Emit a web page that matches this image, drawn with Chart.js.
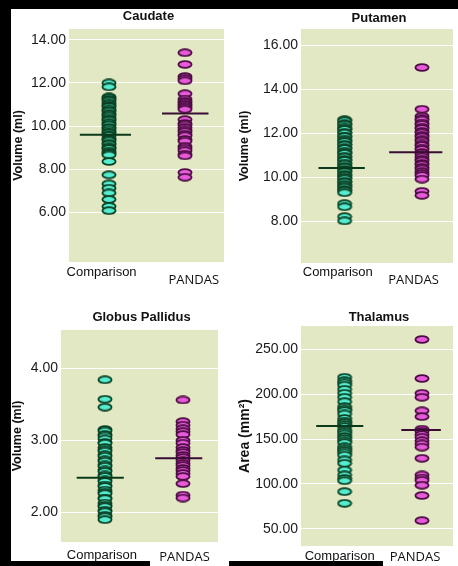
<!DOCTYPE html>
<html>
<head>
<meta charset="utf-8">
<script src="https://cdn.jsdelivr.net/npm/chart.js@4.4.1/dist/chart.umd.min.js"></script>
<style>
  html, body { margin: 0; padding: 0; background: #000; }
  #page { position: relative; width: 458px; height: 566px; overflow: hidden; background: #000; }
  .white { position: absolute; background: #fff; }
  canvas { position: absolute; }
</style>
</head>
<body>
<div id="page">
  <div class="white" style="left:11px;top:9px;width:447px;height:552px"></div>
  <div class="white" style="left:150px;top:560px;width:79px;height:6px"></div>
  <div class="white" style="left:383px;top:560px;width:75px;height:6px"></div>
  <canvas id="caudate" width="218" height="281" style="left:11px;top:9px"></canvas>
  <canvas id="putamen" width="229" height="281" style="left:229px;top:9px"></canvas>
  <canvas id="globus" width="218" height="276" style="left:11px;top:290px"></canvas>
  <canvas id="thalamus" width="229" height="276" style="left:229px;top:290px"></canvas>
</div>
<script>
const groups = ["Comparison", "PANDAS"];

// Caudate, volume (ml)
const caudateComparison = [12.0, 11.82, 11.35, 11.31, 11.24, 11.19, 11.08, 11.02, 10.95, 10.91, 10.8, 10.73,
  10.69, 10.58, 10.52, 10.46, 10.37, 10.3, 10.27, 10.16, 10.09, 10.05, 9.94, 9.9, 9.81, 9.72, 9.69, 9.6,
  9.55, 9.43, 9.38, 9.31, 9.2, 9.16, 9.04, 8.98, 8.95, 8.84, 8.77, 8.72, 8.66, 8.36, 7.74, 7.32, 7.12,
  6.9, 6.6, 6.28, 6.08];
const caudatePandas = [13.4, 12.86, 12.3, 12.2, 12.1, 11.5, 11.25, 11.15, 11.08, 11.0, 10.93, 10.85, 10.78,
  10.3, 10.12, 10.05, 9.93, 9.82, 9.74, 9.62, 9.55, 9.38, 9.3, 9.06, 8.97, 8.86, 8.7, 8.62, 7.85, 7.63];
const caudateMeans = [9.6, 10.58];
const caudateTicks = [6, 8, 10, 12, 14];

// Putamen, volume (ml)
const putamenComparison = [12.62, 12.57, 12.44, 12.41, 12.29, 12.21, 12.18, 12.05, 12.01, 11.88, 11.85,
  11.74, 11.66, 11.62, 11.5, 11.47, 11.35, 11.31, 11.19, 11.12, 11.09, 10.96, 10.92, 10.81, 10.77, 10.65,
  10.6, 10.49, 10.46, 10.36, 10.29, 10.24, 10.13, 10.07, 9.99, 9.93, 9.81, 9.78, 9.67, 9.6, 9.55, 9.44,
  9.39, 9.3, 8.8, 8.66, 8.21, 8.02];
const putamenPandas = [15.0, 13.1, 12.78, 12.66, 12.61, 12.47, 12.41, 12.28, 12.22, 12.09, 12.02, 11.9,
  11.84, 11.71, 11.65, 11.52, 11.45, 11.33, 11.27, 11.13, 11.05, 10.93, 10.82, 10.75, 10.63, 10.57, 10.45,
  10.38, 10.26, 10.17, 10.08, 9.92, 9.36, 9.18];
const putamenMeans = [10.42, 11.14];
const putamenTicks = [8, 10, 12, 14, 16];

// Globus pallidus, volume (ml)
const globusComparison = [3.84, 3.57, 3.46, 3.15, 3.13, 3.08, 3.06, 3.02, 2.97, 2.96, 2.9, 2.87, 2.85, 2.8,
  2.78, 2.73, 2.71, 2.66, 2.64, 2.59, 2.57, 2.52, 2.5, 2.45, 2.43, 2.38, 2.36, 2.31, 2.28, 2.26, 2.2, 2.19,
  2.13, 2.1, 2.08, 2.03, 2.01, 1.96, 1.94, 1.9];
const globusPandas = [3.56, 3.26, 3.21, 3.16, 3.12, 3.08, 3.0, 2.96, 2.9, 2.86, 2.83, 2.79, 2.76, 2.72,
  2.68, 2.65, 2.61, 2.58, 2.54, 2.5, 2.4, 2.24, 2.2];
const globusMeans = [2.48, 2.75];
const globusTicks = [2, 3, 4];

// Thalamus, area (mm2)
const thalamusComparison = [218.8, 215, 212.5, 210, 205.4, 201, 196.5, 191.6, 186, 183.5, 181.6, 177.9,
  173, 170, 168.2, 166, 163.8, 160, 158, 155.6, 152.8, 150.7, 148, 145.9, 141.4, 139, 137, 134.5, 132,
  126.6, 122.9, 115.4, 109.9, 106, 103.5, 91.3, 78.3];
const thalamusPandas = [261, 217.5, 201, 196.5, 181.5, 175, 161, 158.5, 155, 152, 148, 144.5, 141, 128.5,
  110, 106.5, 104, 98.5, 87, 59];
const thalamusMeans = [164.5, 160];
const thalamusTicks = [50, 100, 150, 200, 250];

const panels = [
  { id: "caudate", title: "Caudate", yTitle: "Volume (ml)", yTitleSize: 12.5, yTitlePad: 0.8,
    comparison: caudateComparison, pandas: caudatePandas, means: caudateMeans, ticks: caudateTicks,
    yMin: 3.7, yMax: 14.5, axisWidth: 58, pad: { top: 20, right: 1, bottom: 28 },
    xPos: [0.258, 0.748], meanSpan: [[0.07, 0.40], [0.60, 0.90]],
    titleDy: -13, labelPos: [[0.21, 10], [0.805, 18]] },
  { id: "putamen", title: "Putamen", yTitle: "Volume (ml)", yTitleSize: 12.5, yTitlePad: 8.8,
    comparison: putamenComparison, pandas: putamenPandas, means: putamenMeans, ticks: putamenTicks,
    yMin: 6.1, yMax: 16.75, axisWidth: 72, pad: { top: 20, right: 0, bottom: 27 },
    xPos: [0.287, 0.796], meanSpan: [[0.115, 0.42], [0.58, 0.93]],
    titleDy: -11, labelPos: [[0.242, 9], [0.74, 17]] },
  { id: "globus", title: "Globus Pallidus", yTitle: "Volume (ml)", yTitleSize: 12.5, yTitlePad: 0,
    comparison: globusComparison, pandas: globusPandas, means: globusMeans, ticks: globusTicks,
    yMin: 1.59, yMax: 4.53, axisWidth: 50, pad: { top: 40, right: 11, bottom: 24 },
    xPos: [0.28, 0.777], meanSpan: [[0.10, 0.40], [0.60, 0.90]],
    titleDy: -13, labelPos: [[0.26, 13], [0.787, 15]] },
  { id: "thalamus", title: "Thalamus", yTitle: "Area (mm²)", yTitleSize: 14, yTitlePad: 9,
    comparison: thalamusComparison, pandas: thalamusPandas, means: thalamusMeans, ticks: thalamusTicks,
    yMin: 30.7, yMax: 276, axisWidth: 72, pad: { top: 36, right: 0, bottom: 20 },
    xPos: [0.287, 0.796], meanSpan: [[0.10, 0.41], [0.66, 0.92]],
    titleDy: -9, labelPos: [[0.255, 10], [0.75, 11]] },
];

function ellipse(fill, stroke) {
  const c = document.createElement("canvas");
  c.width = 16;
  c.height = 9;
  const g = c.getContext("2d");
  g.beginPath();
  g.ellipse(8, 4.5, 6.6, 3.3, 0, 0, Math.PI * 2);
  g.fillStyle = fill;
  g.fill();
  g.lineWidth = 1.8;
  g.strokeStyle = stroke;
  g.stroke();
  return c;
}

const compMark = ellipse("#55ecd0", "#0b4224");
const pandasMark = ellipse("#e65cd8", "#4e0c44");

// green plot background
const plotBg = {
  id: "plotBg",
  beforeDraw(chart) {
    const a = chart.chartArea;
    const ctx = chart.ctx;
    ctx.save();
    ctx.fillStyle = "#e2e8c4";
    ctx.fillRect(a.left, a.top, a.right - a.left, a.bottom - a.top);
    ctx.restore();
  },
};

// panel title and the two group labels under the plot
const panelText = {
  id: "panelText",
  afterDraw(chart, args, opts) {
    const a = chart.chartArea;
    const ctx = chart.ctx;
    ctx.save();
    ctx.fillStyle = "#111";
    ctx.textAlign = "center";
    ctx.textBaseline = "middle";
    ctx.font = "bold 13px 'Liberation Sans', Arial, sans-serif";
    ctx.fillText(opts.title, (a.left + a.right) / 2 + 2, a.top + opts.titleDy);
    ctx.font = "13px 'Liberation Sans', Arial, sans-serif";
    const p0 = opts.labelPos[0];
    ctx.fillText(groups[0], a.left + p0[0] * (a.right - a.left), a.bottom + p0[1]);
    ctx.font = "13px 'Open Sans', sans-serif";
    const p1 = opts.labelPos[1];
    ctx.fillText(groups[1], a.left + p1[0] * (a.right - a.left), a.bottom + p1[1]);
    ctx.restore();
  },
};

panels.forEach((p) => {
  const meanLine = (i, color) => ({
    data: [
      { x: p.meanSpan[i][0], y: p.means[i] },
      { x: p.meanSpan[i][1], y: p.means[i] },
    ],
    showLine: true,
    borderColor: color,
    borderWidth: 2,
    pointRadius: 0,
  });

  new Chart(document.getElementById(p.id), {
    type: "scatter",
    data: {
      datasets: [
        meanLine(0, "#0b3a1b"),
        meanLine(1, "#3a0c33"),
        {
          data: p.comparison.map((v) => ({ x: p.xPos[0], y: v })),
          pointStyle: compMark,
          pointRadius: 4,
        },
        {
          data: p.pandas.map((v) => ({ x: p.xPos[1], y: v })),
          pointStyle: pandasMark,
          pointRadius: 4,
        },
      ],
    },
    options: {
      responsive: false,
      animation: false,
      devicePixelRatio: 1,
      layout: { padding: { left: 0, top: p.pad.top, right: p.pad.right, bottom: p.pad.bottom } },
      scales: {
        x: { type: "linear", display: false, min: 0, max: 1 },
        y: {
          min: p.yMin,
          max: p.yMax,
          afterBuildTicks: (scale) => {
            scale.ticks = p.ticks.map((v) => ({ value: v }));
          },
          afterFit: (scale) => {
            scale.width = p.axisWidth;
          },
          grid: { color: "rgba(255,255,255,0.95)", lineWidth: 1, drawTicks: false },
          border: { display: false },
          ticks: {
            padding: 3,
            color: "#1a1a1a",
            font: { family: "'Liberation Sans', Arial, sans-serif", size: 14 },
            callback: (v) => Number(v).toFixed(2),
          },
          title: {
            display: true,
            text: p.yTitle,
            color: "#111",
            padding: { top: p.yTitlePad, bottom: 0 },
            font: { family: "'Liberation Sans', Arial, sans-serif", size: p.yTitleSize, weight: "bold", lineHeight: 1 },
          },
        },
      },
      plugins: {
        legend: { display: false },
        tooltip: { enabled: false },
        panelText: { title: p.title, titleDy: p.titleDy, labelPos: p.labelPos },
      },
    },
    plugins: [plotBg, panelText],
  });
});
</script>
</body>
</html>
